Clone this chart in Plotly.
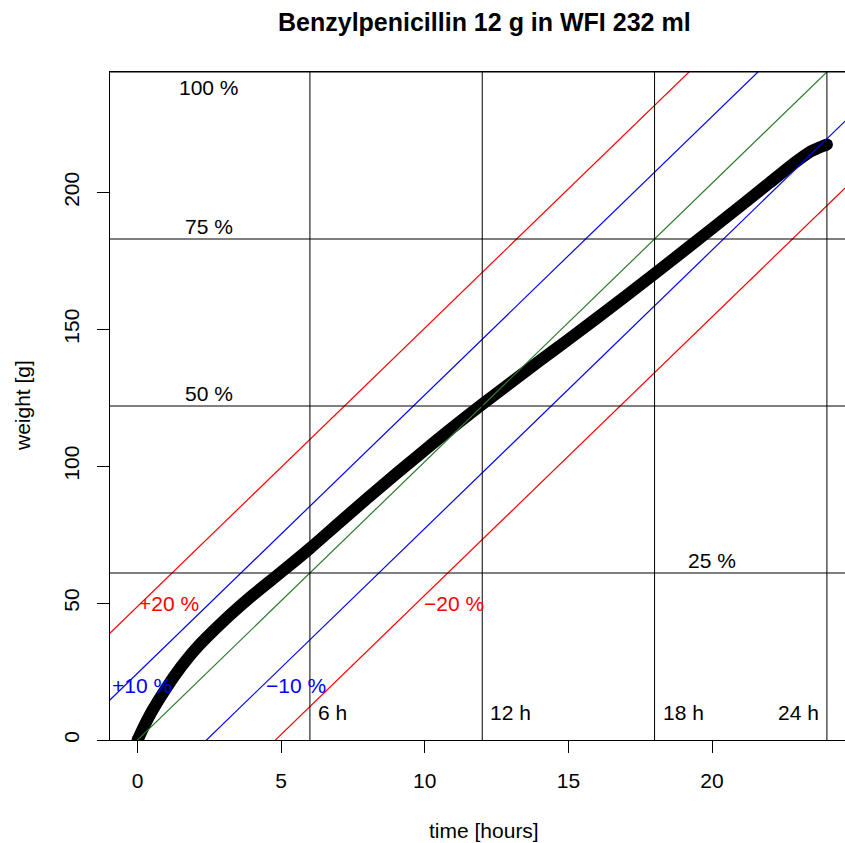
import plotly.graph_objects as go

# Measured weight of the infusion over time
hours = [0, 0.25, 0.5, 1, 1.5, 2, 3, 4, 5, 6, 7, 8, 9, 10, 11, 12, 13, 14,
         15, 16, 17, 18, 19, 20, 21, 22, 23, 23.5, 24]
weight = [0, 5.5, 10.5, 19, 26.5, 33, 43.5, 52.8, 61.3, 70, 79.2, 88.3, 97.2,
          105.9, 114.4, 122.6, 130.6, 138.5, 146.3, 154.2, 162.2, 170.3,
          178.5, 186.8, 195.1, 203.5, 211.8, 215.3, 217.5]

total = 244          # 232 ml WFI + 12 g drug
duration = 24        # planned infusion time [h]

# Tolerance bands: time shift as fraction of duration
band_frac = [0.2, 0.1, 0.0, -0.1, -0.2]
band_color = ["#ff0000", "#0000ff", "#2b7a2b", "#0000ff", "#ff0000"]
band_text = ["+20 %", "+10 %", None, "\u221210 %", "\u221220 %"]
band_label_t = [1.1, 0.15, None, 5.5, 11.0]
band_label_w = [50, 20, None, 20, 50]

level_frac = [0.25, 0.5, 0.75, 1.0]
level_text = ["25 %", "50 %", "75 %", "100 %"]
level_label_t = [20, 2.5, 2.5, 2.5]

hour_marks = [6, 12, 18, 24]
hour_text = ["6 h", "12 h", "18 h", "24 h"]

x_ticks = [0, 5, 10, 15, 20]
y_ticks = [0, 50, 100, 150, 200]

x_range = [-0.96, 24.63]
y_range = [0, total]

FONT = "Liberation Sans, Arial, Helvetica, sans-serif"

fig = go.Figure()

# Measured curve (drawn first so reference lines sit on top)
fig.add_trace(go.Scatter(
    x=hours, y=weight, mode="lines",
    line=dict(color="black", width=12, shape="spline", smoothing=1.0),
    hoverinfo="skip", showlegend=False))
fig.add_trace(go.Scatter(
    x=[hours[0], hours[-1]], y=[weight[0], weight[-1]], mode="markers",
    marker=dict(color="black", size=12), hoverinfo="skip", showlegend=False))

# Diagonal target line and tolerance bands
rate = total / duration
t_line = [x_range[0] - 1, x_range[1] + 1]
for frac, col in zip(band_frac, band_color):
    shift = frac * duration
    fig.add_trace(go.Scatter(
        x=t_line, y=[rate * (t + shift) for t in t_line], mode="lines",
        line=dict(color=col, width=1.2), hoverinfo="skip", showlegend=False))

# Fill-level and hour reference lines
shapes = []
for f in level_frac:
    shapes.append(dict(type="line", xref="paper", x0=0, x1=1, yref="y",
                       y0=f * total, y1=f * total,
                       line=dict(color="black", width=1)))
for h in hour_marks:
    shapes.append(dict(type="line", yref="paper", y0=0, y1=1, xref="x",
                       x0=h, x1=h, line=dict(color="black", width=1)))

annotations = []
for f, txt, t in zip(level_frac, level_text, level_label_t):
    annotations.append(dict(x=t, y=f * total, text=txt, showarrow=False,
                            xref="x", yref="y", yanchor="middle",
                            yshift=-15 if f >= 1 else 13,
                            font=dict(size=21, color="black", family=FONT)))
for txt, t, w, col in zip(band_text, band_label_t, band_label_w, band_color):
    if txt is None:
        continue
    annotations.append(dict(x=t, y=w, text=txt, showarrow=False,
                            xref="x", yref="y",
                            font=dict(size=21, color=col, family=FONT)))
for h, txt in zip(hour_marks, hour_text):
    right = h >= duration
    annotations.append(dict(x=h, y=10, text=txt, showarrow=False,
                            xref="x", yref="y",
                            xanchor="right" if right else "left",
                            xshift=-6 if right else 6,
                            font=dict(size=21, color="black", family=FONT)))

# Title and axis titles (positioned in paper units of the 735x668 plot box)
annotations.append(dict(x=0.509, y=1.0749, xref="paper", yref="paper",
                        text="<b>Benzylpenicillin 12 g in WFI 232 ml</b>",
                        showarrow=False, yanchor="middle",
                        font=dict(size=25, color="black", family=FONT)))
annotations.append(dict(x=0.509, y=-0.1362, xref="paper", yref="paper",
                        text="time [hours]", showarrow=False, yanchor="middle",
                        font=dict(size=21, color="black", family=FONT)))
annotations.append(dict(x=-0.1197, y=0.5, xref="paper", yref="paper",
                        text="weight [g]", showarrow=False, textangle=-90,
                        xanchor="center", yanchor="middle",
                        font=dict(size=21, color="black", family=FONT)))

fig.update_layout(
    width=845, height=843,
    margin=dict(l=110, r=0, t=72, b=103),
    paper_bgcolor="white", plot_bgcolor="white",
    font=dict(family=FONT, size=21, color="black"),
    shapes=shapes, annotations=annotations,
    xaxis=dict(range=x_range, tickvals=x_ticks, ticks="outside", ticklen=12,
               tickcolor="black", tickwidth=1, showline=True,
               linecolor="black", linewidth=1, mirror=True,
               showgrid=False, zeroline=False, ticklabelstandoff=10,
               tickfont=dict(size=21, family=FONT, color="black")),
    yaxis=dict(range=y_range, tickvals=y_ticks, ticks="outside", ticklen=12,
               tickcolor="black", tickwidth=1, showline=True,
               linecolor="black", linewidth=1, mirror=False,
               showgrid=False, zeroline=False, tickangle=-90,
               ticklabelstandoff=10,
               tickfont=dict(size=21, family=FONT, color="black")),
)

fig.write_html("out.html")
